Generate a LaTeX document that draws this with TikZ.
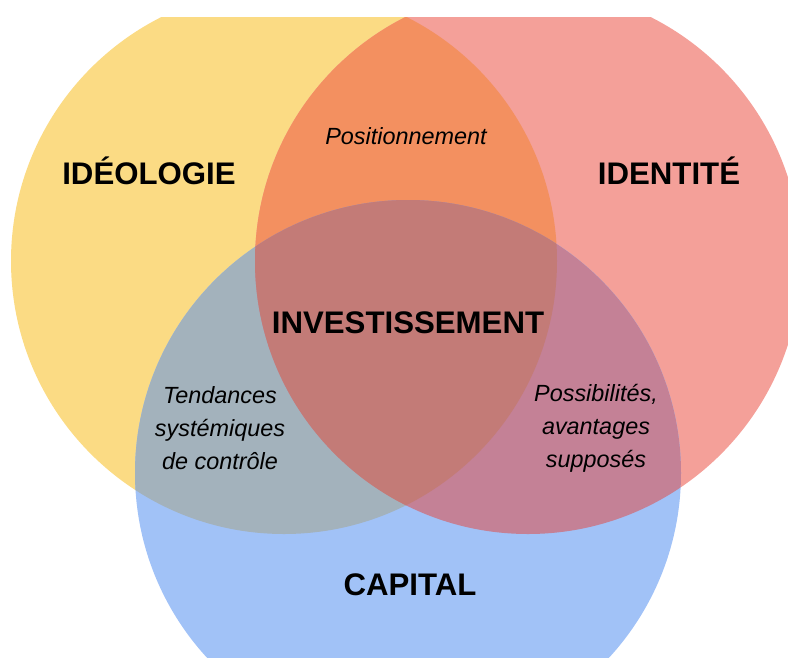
\documentclass[tikz,border=0pt]{standalone}
\usepackage{fontspec}
\setmainfont{Liberation Sans}
\definecolor{cY}{HTML}{FBDB84}
\definecolor{cR}{HTML}{F4A099}
\definecolor{cB}{HTML}{A1C2F7}
\definecolor{cYR}{HTML}{F39060}
\definecolor{cYB}{HTML}{A3B2BC}
\definecolor{cRB}{HTML}{C48196}
\definecolor{cYRB}{HTML}{C37B77}
\begin{document}
\begin{tikzpicture}[x=1pt,y=-1pt,
  big/.style={font=\fontsize{31.2}{37}\selectfont\bfseries, inner sep=0pt, anchor=base},
  small/.style={font=\fontsize{23.4}{33}\selectfont\itshape, inner sep=0pt, align=center}]
\useasboundingbox (0,0) rectangle (788,657);
\def\Ycirc{(284,261) circle[radius=273]}
\def\Rcirc{(528,261) circle[radius=273]}
\def\Bcirc{(408,473) circle[radius=273]}
\begin{scope}
  \clip (0,17) rectangle (788,657);
  \fill[cY] \Ycirc;
  \fill[cR] \Rcirc;
  \fill[cB] \Bcirc;
  \begin{scope}\clip \Ycirc; \fill[cYR] \Rcirc; \end{scope}
  \begin{scope}\clip \Ycirc; \fill[cYB] \Bcirc; \end{scope}
  \begin{scope}\clip \Rcirc; \fill[cRB] \Bcirc; \end{scope}
  \begin{scope}\clip \Ycirc; \clip \Rcirc; \fill[cYRB] \Bcirc; \end{scope}
\end{scope}
\node[big] (ideo) at (149,184) {IDÉOLOGIE};
\node[big] (iden) at (669,184) {IDENTITÉ};
\node[big] (inv) at (408,333) {INVESTISSEMENT};
\node[big] (cap) at (410,595) {CAPITAL};
\node[small, anchor=base] (pos) at (406,144) {Positionnement};
\node[small] (tend) at (220,428) {Tendances\\systémiques\\de contrôle};
\node[small] (poss) at (596,428) {Possibilités,\\avantages\\supposés};
\end{tikzpicture}
\end{document}
